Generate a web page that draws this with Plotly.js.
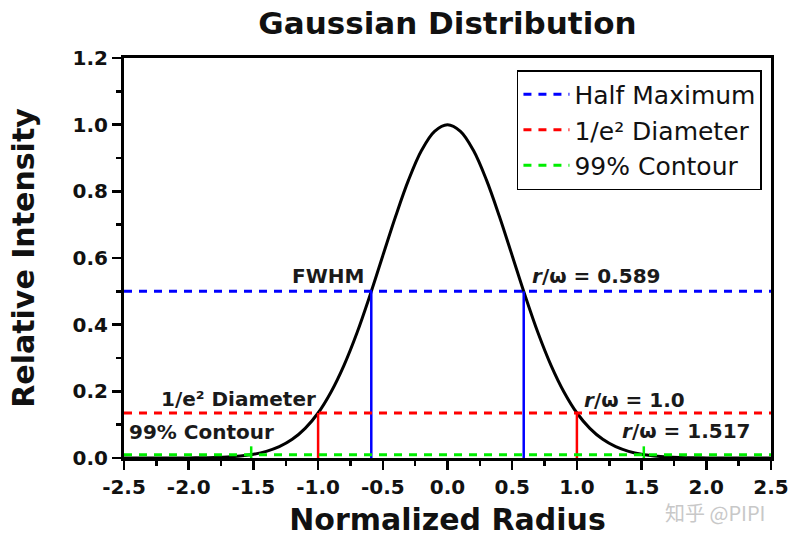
<!DOCTYPE html>
<html>
<head>
<meta charset="utf-8">
<script src="https://cdn.plot.ly/plotly-3.0.1.min.js"></script>
<style>html,body{margin:0;padding:0;background:#fff;}#chart{width:798px;height:544px;}</style>
</head>
<body>
<div id="chart"></div>
<script>
// Gaussian curve
const radius = [-2.5,-2.4,-2.3,-2.2,-2.1,-2.0,-1.9,-1.8,-1.7,-1.6,-1.5,-1.4,-1.3,-1.2,-1.1,-1.0,-0.9,-0.8,-0.7,-0.6,-0.5,-0.4,-0.3,-0.2,-0.1,0.0,
                0.1,0.2,0.3,0.4,0.5,0.6,0.7,0.8,0.9,1.0,1.1,1.2,1.3,1.4,1.5,1.6,1.7,1.8,1.9,2.0,2.1,2.2,2.3,2.4,2.5];
const intensity = [0,0,0,0,0.0001,0.0003,0.0007,0.0015,0.003,0.006,0.011,0.020,0.034,0.056,0.089,0.135,0.198,0.278,0.375,0.487,0.607,0.726,0.835,0.923,0.980,1.0,
                   0.980,0.923,0.835,0.726,0.607,0.487,0.375,0.278,0.198,0.135,0.089,0.056,0.034,0.020,0.011,0.006,0.003,0.0015,0.0007,0.0003,0.0001,0,0,0,0];

// Reference levels
const levelNames = ['Half Maximum', '1/e\u00b2 Diameter', '99% Contour'];
const levelY = [0.5, 0.135, 0.01];
const levelR = [0.589, 1.0, 1.517];
const markerTop = [0.5, 0.135, 0.035];
const levelColors = ['#0000ff', '#ff0000', '#00ee00'];
const xRange = [-2.5, 2.5];

// Tick labels
const xTickVals = [-2.5,-2.0,-1.5,-1.0,-0.5,0.0,0.5,1.0,1.5,2.0,2.5];
const xTickText = ['-2.5','-2.0','-1.5','-1.0','-0.5','0.0','0.5','1.0','1.5','2.0','2.5'];
const yTickVals = [0,0.2,0.4,0.6,0.8,1.0,1.2];
const yTickText = ['0.0','0.2','0.4','0.6','0.8','1.0','1.2'];

// Annotation texts
const labelTexts = ['FWHM', '<i>r</i>/\u03c9 = 0.589', '1/e\u00b2 Diameter', '<i>r</i>/\u03c9 = 1.0', '99% Contour', '<i>r</i>/\u03c9 = 1.517'];
const labelX = [-0.63, 0.64, -1.0, 1.04, -2.48, 1.33];
const labelY = [0.546, 0.546, 0.177, 0.174, 0.078, 0.081];
const labelAnchor = ['right', 'left', 'right', 'left', 'left', 'left'];

const traces = [];
traces.push({x: radius, y: intensity, mode: 'lines', line: {color: '#000', width: 3, shape: 'spline'}, showlegend: false, hoverinfo: 'skip'});
for (let i = 0; i < levelY.length; i++) {
  traces.push({x: [-levelR[i], -levelR[i]], y: [0, markerTop[i]], mode: 'lines', line: {color: levelColors[i], width: 2.5}, showlegend: false, hoverinfo: 'skip'});
  traces.push({x: [levelR[i], levelR[i]], y: [0, markerTop[i]], mode: 'lines', line: {color: levelColors[i], width: 2.5}, showlegend: false, hoverinfo: 'skip'});
}
for (let i = 0; i < levelY.length; i++) {
  traces.push({x: xRange, y: [levelY[i], levelY[i]], mode: 'lines', name: levelNames[i], legendgroup: 'g' + i,
    line: {color: levelColors[i], width: 3, dash: '8px,7px'}});
}

const tickFont = {family: 'DejaVu Sans', size: 20, weight: 'bold', color: '#111'};
const annotations = labelTexts.map((t, i) => ({
  x: labelX[i], y: labelY[i], xref: 'x', yref: 'y', text: t, showarrow: false,
  xanchor: labelAnchor[i], yanchor: 'middle',
  font: {family: 'DejaVu Sans', size: 20, weight: 'bold', color: '#1a1a1a'}
}));
annotations.push({x: 0.913, y: -0.135, xref: 'paper', yref: 'paper', text: '知乎 @PIPI', showarrow: false,
  xanchor: 'center', yanchor: 'middle', font: {family: 'Noto Sans CJK SC', size: 20, color: '#c8c8c8'}});

const layout = {
  width: 798, height: 544,
  margin: {l: 124, r: 27, t: 58, b: 86},
  paper_bgcolor: '#fff', plot_bgcolor: '#fff',
  title: {text: 'Gaussian Distribution', x: 0.5, xref: 'paper', y: 0.958, yanchor: 'middle',
    font: {family: 'DejaVu Sans', size: 31, weight: 'bold', color: '#111'}},
  xaxis: {
    range: xRange, tickvals: xTickVals, ticktext: xTickText,
    showgrid: false, zeroline: false, showline: true, linecolor: '#000', linewidth: 3, mirror: true,
    ticks: 'outside', ticklen: 9, tickwidth: 2.5, tickcolor: '#000', tickfont: tickFont,
    minor: {dtick: 0.25, ticks: 'outside', ticklen: 5, tickwidth: 2.5, tickcolor: '#000', showgrid: false},
    layer: 'below traces',
    title: {text: 'Normalized Radius', font: {family: 'DejaVu Sans', size: 30, weight: 'bold', color: '#111'}, standoff: 11}
  },
  yaxis: {
    range: [0, 1.2], tickvals: yTickVals, ticktext: yTickText,
    showgrid: false, zeroline: false, showline: true, linecolor: '#000', linewidth: 3, mirror: true,
    ticks: 'outside', ticklen: 9, tickwidth: 2.5, tickcolor: '#000', tickfont: tickFont,
    minor: {dtick: 0.1, ticks: 'outside', ticklen: 5, tickwidth: 2.5, tickcolor: '#000', showgrid: false},
    layer: 'below traces',
    title: {text: 'Relative Intensity', font: {family: 'DejaVu Sans', size: 30, weight: 'bold', color: '#111'}, standoff: 30}
  },
  legend: {
    x: 0.986, y: 0.97, xanchor: 'right', yanchor: 'top',
    bgcolor: '#fff', bordercolor: '#000', borderwidth: 1.5,
    font: {family: 'DejaVu Sans', size: 25, color: '#111'},
    tracegroupgap: 0, itemwidth: 46
  },
  annotations: annotations,
  showlegend: true
};

Plotly.newPlot('chart', traces, layout, {displayModeBar: false, staticPlot: true});
</script>
</body>
</html>
